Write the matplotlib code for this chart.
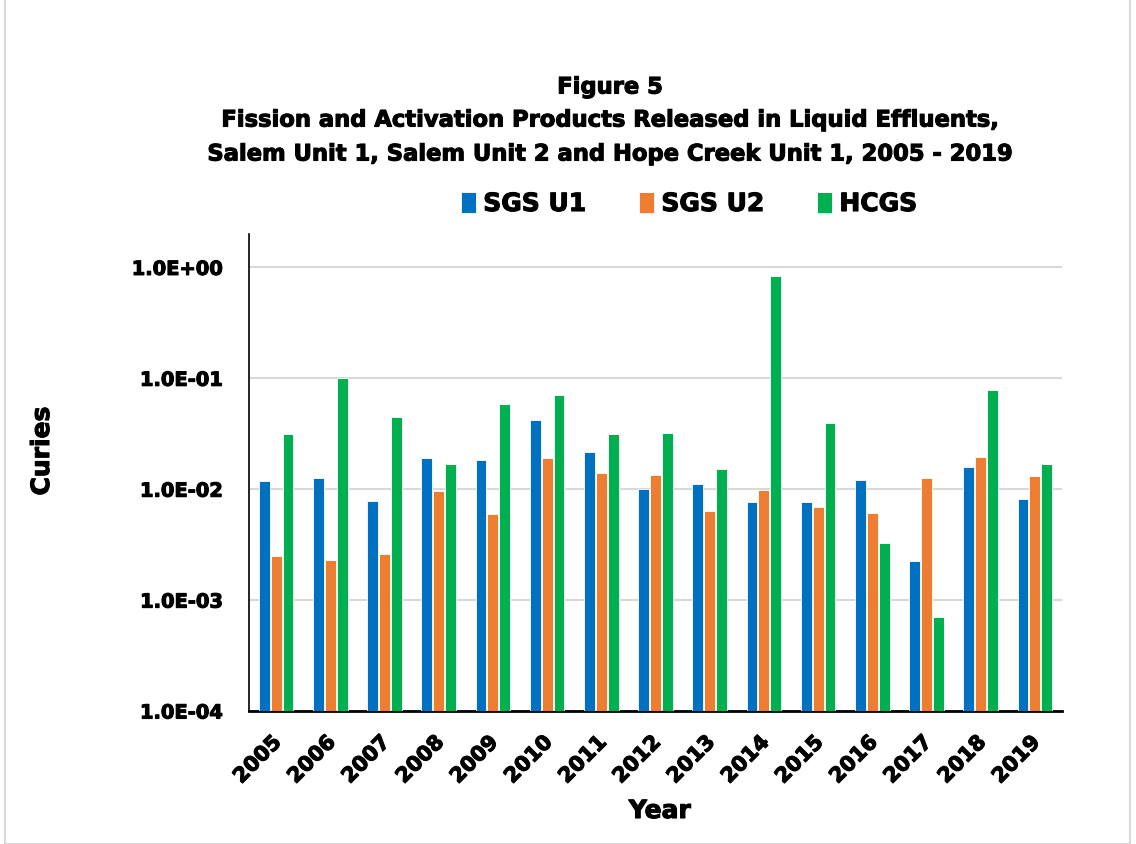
import numpy as np
import matplotlib.pyplot as plt
import matplotlib.patheffects as pe
import matplotlib.transforms as mtrans
from matplotlib.patches import Rectangle

years = ['2005', '2006', '2007', '2008', '2009', '2010', '2011', '2012',
         '2013', '2014', '2015', '2016', '2017', '2018', '2019']
sgs_u1 = [1.18e-2, 1.26e-2, 7.8e-3, 1.9e-2, 1.82e-2, 4.2e-2, 2.15e-2, 1.0e-2,
          1.11e-2, 7.6e-3, 7.6e-3, 1.2e-2, 2.25e-3, 1.58e-2, 8.1e-3]
sgs_u2 = [2.5e-3, 2.3e-3, 2.6e-3, 9.6e-3, 5.95e-3, 1.9e-2, 1.39e-2, 1.34e-2,
          6.3e-3, 9.8e-3, 6.9e-3, 6.1e-3, 1.25e-2, 1.94e-2, 1.31e-2]
hcgs = [3.13e-2, 1.0e-1, 4.45e-2, 1.68e-2, 5.83e-2, 7.0e-2, 3.13e-2, 3.2e-2,
        1.51e-2, 8.3e-1, 3.93e-2, 3.27e-3, 7.0e-4, 7.8e-2, 1.68e-2]
series = ['SGS U1', 'SGS U2', 'HCGS']
colors = ['#0070C0', '#ED7D31', '#00B050']

plt.rcParams['font.family'] = ['DejaVu Sans']
plt.rcParams['font.weight'] = 'bold'
heavy = [pe.withStroke(linewidth=0.8, foreground='black')]

fig = plt.figure(figsize=(11.36, 8.45), dpi=100)
ax = fig.add_axes([249 / 1136, 1 - 712 / 845, (1062 - 249) / 1136, (712 - 235) / 845])

x = np.arange(len(years))
w = 0.2
for i, (vals, name, c) in enumerate(zip([sgs_u1, sgs_u2, hcgs], series, colors)):
    ax.bar(x + (i - 1) * (w + 0.02), vals, width=w, color=c, label=name,
           edgecolor='white', linewidth=0.6, zorder=3)

ax.set_yscale('log')
ax.set_ylim(1e-4, 2.0)
ax.set_xlim(-0.5, len(years) - 0.5)
ax.set_yticks([1e-4, 1e-3, 1e-2, 1e-1, 1e0])
ax.set_yticklabels(['1.0E-04', '1.0E-03', '1.0E-02', '1.0E-01', '1.0E+00'])
ax.minorticks_off()
ax.tick_params(axis='y', length=0, labelsize=14, pad=19)
ax.set_xticks(x)
ax.set_xticklabels(years, rotation=45, ha='right', rotation_mode='anchor', fontsize=15)
ax.tick_params(axis='x', length=0, pad=15)
shift = mtrans.ScaledTranslation(-5 / 100, 0, fig.dpi_scale_trans)
for t in ax.get_xticklabels():
    t.set_transform(t.get_transform() + shift)
for t in ax.get_xticklabels() + ax.get_yticklabels():
    t.set_path_effects(heavy)
ax.grid(axis='y', color='#d9d9d9', linewidth=1.5, zorder=0)

for s in ['top', 'right']:
    ax.spines[s].set_visible(False)
ax.spines['left'].set_linewidth(1.2)
ax.spines['bottom'].set_linewidth(2)

fig.text(42 / 1136, 1 - 452 / 845, 'Curies', rotation=90, ha='center', va='center',
         fontsize=18, fontweight='bold', path_effects=heavy)
fig.text(660 / 1136, 1 - 812 / 845, 'Year', ha='center', va='center',
         fontsize=18, fontweight='bold', path_effects=heavy)

fig.text(610 / 1136, 1 - 88 / 845, 'Figure 5', ha='center', va='center',
         fontsize=16.3, fontweight='bold', path_effects=heavy)
fig.text(610 / 1136, 1 - 121 / 845, 'Fission and Activation Products Released in Liquid Effluents,',
         ha='center', va='center', fontsize=16.3, fontweight='bold', path_effects=heavy)
fig.text(610 / 1136, 1 - 155 / 845, 'Salem Unit 1, Salem Unit 2 and Hope Creek Unit 1, 2005 - 2019',
         ha='center', va='center', fontsize=16.3, fontweight='bold', path_effects=heavy)

leg = fig.legend(loc='center', bbox_to_anchor=(689 / 1136, 1 - 205 / 845), ncol=3, frameon=False,
                 fontsize=18, handlelength=0.6, handleheight=0.9, handletextpad=0.3,
                 columnspacing=2.1)
for t in leg.get_texts():
    t.set_path_effects(heavy)

fig.patches.append(Rectangle((5 / 1136, 0), 1125 / 1136, 1, transform=fig.transFigure,
                             fill=False, edgecolor='#d9d9d9', linewidth=1.5))

fig.savefig('out.png', dpi=100)
